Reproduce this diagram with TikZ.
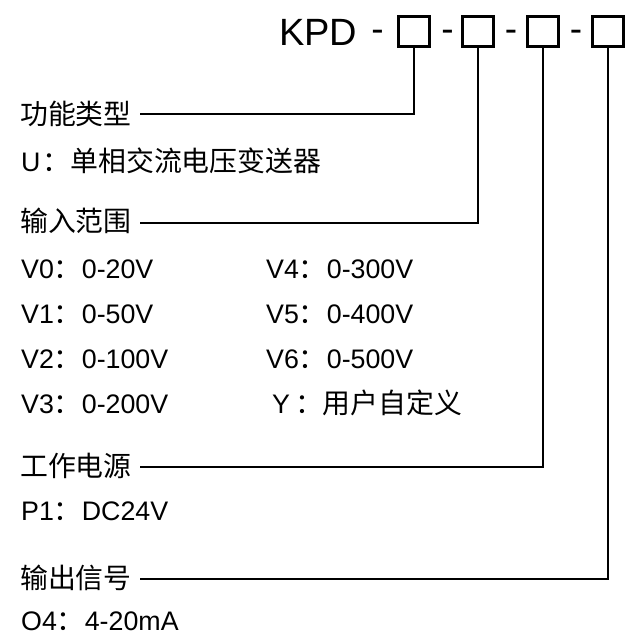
\documentclass[tikz,border=0pt]{standalone}
\usepackage{fontspec}
\setmainfont{Liberation Sans}
\newfontfamily\cjk[Scale=1.04]{Noto Sans CJK SC}
\newcommand{\cn}[1]{{\cjk #1}}
\usetikzlibrary{positioning}

\begin{document}
\begin{tikzpicture}[
  x=1pt,y=-1pt,
  txt/.style={anchor=base west,inner sep=0pt,font=\fontsize{26.8}{30}\selectfont},
  codebox/.style={draw,line width=2.6pt,minimum width=31pt,minimum height=30pt,inner sep=0pt},
  dashtxt/.style={anchor=base,inner sep=0pt,font=\fontsize{37}{40}\selectfont},
  link/.style={line width=1.8pt}
]
  \useasboundingbox (0,0) rectangle (644,644);

  % model code
  \node[anchor=base west,inner sep=0pt,font=\fontsize{38}{40}\selectfont] (kpd) at (279,45.5) {KPD};
  \node[dashtxt] (d0) at (377.5,42) {-};
  \node[codebox] (b1) at (414,31.5) {};
  \node[dashtxt] (d1) at (447.5,42) {-};
  \node[codebox] (b2) at (478,31.5) {};
  \node[dashtxt] (d2) at (511,42) {-};
  \node[codebox] (b3) at (543,31.5) {};
  \node[dashtxt] (d3) at (576,42) {-};
  \node[codebox] (b4) at (608,31.5) {};

  % function type
  \node[txt] (func) at (20,125) {\cn{功能类型}};
  \node[txt] (funcu) at (21,172) {U\hspace{2pt}\cn{：单相交流电压变送器}};

  % input range
  \node[txt] (inp) at (20,231) {\cn{输入范围}};
  \node[txt] (v0) at (21,278) {V0\cn{：}0-20V};
  \node[txt] (v1) at (21,323) {V1\cn{：}0-50V};
  \node[txt] (v2) at (21,368) {V2\cn{：}0-100V};
  \node[txt] (v3) at (21,413) {V3\cn{：}0-200V};
  \node[txt] (v4) at (266,278) {V4\cn{：}0-300V};
  \node[txt] (v5) at (266,323) {V5\cn{：}0-400V};
  \node[txt] (v6) at (266,368) {V6\cn{：}0-500V};
  \node[txt] (vy) at (266,413) {\hspace{6pt}Y\hspace{5pt}\cn{：用户自定义}};

  % power supply
  \node[txt] (pwr) at (20,476) {\cn{工作电源}};
  \node[txt] (p1) at (21,520) {P1\cn{：}DC24V};

  % output signal
  \node[txt] (out) at (20,588) {\cn{输出信号}};
  \node[txt] (o4) at (21,630) {O4\cn{：}4-20mA};

  \coordinate (c1) at (140,114);
  \coordinate (c2) at (140,223);
  \coordinate (c3) at (140,467);
  \coordinate (c4) at (140,579);

  \draw[link] (b1.south) |- (c1);
  \draw[link] (b2.south) |- (c2);
  \draw[link] (b3.south) |- (c3);
  \draw[link] (b4.south) |- (c4);
\end{tikzpicture}
\end{document}
